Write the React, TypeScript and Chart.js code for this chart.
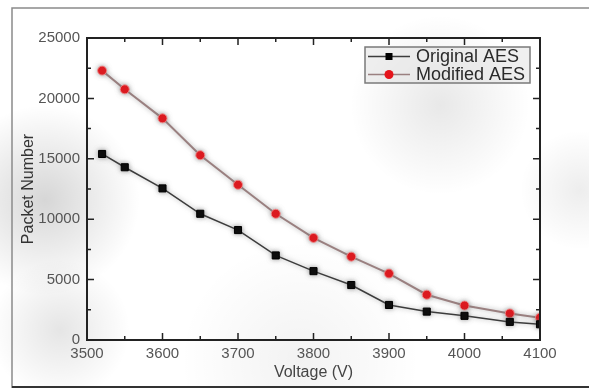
import React, { useEffect, useRef } from "react";
import { Chart, registerables } from "chart.js";

Chart.register(...registerables);

const voltages = [3520, 3550, 3600, 3650, 3700, 3750, 3800, 3850, 3900, 3950, 4000, 4060, 4100];
const originalAES = [15400, 14300, 12550, 10450, 9100, 7000, 5700, 4550, 2900, 2350, 2000, 1500, 1300];
const modifiedAES = [22300, 20750, 18350, 15300, 12850, 10450, 8450, 6900, 5500, 3750, 2850, 2200, 1850];
const seriesNames = ["Original AES", "Modified AES"];
const xMajorTicks = [3500, 3600, 3700, 3800, 3900, 4000, 4100];
const xMinorTicks = [3550, 3650, 3750, 3850, 3950, 4050];
const yMajorTicks = [0, 5000, 10000, 15000, 20000, 25000];
const yMinorTicks = [2500, 7500, 12500, 17500, 22500];
const xTitle = "Voltage (V)";
const yTitle = "Packet Number";

const FONT = "'Liberation Sans', Arial, sans-serif";

const backgroundPlugin = {
  id: "bgPlugin",
  beforeDraw(chart: any) {
    const { ctx, width, height } = chart;
    ctx.save();
    ctx.fillStyle = "#ffffff";
    ctx.fillRect(0, 0, width, height);
    const glows = [
      [45, 200, 95, 0.16],
      [60, 330, 70, 0.1],
      [440, 105, 90, 0.09],
      [580, 190, 60, 0.07],
      [300, 360, 120, 0.05],
    ];
    for (const [x, y, r, a] of glows) {
      const g = ctx.createRadialGradient(x, y, 0, x, y, r);
      g.addColorStop(0, `rgba(0,0,0,${a})`);
      g.addColorStop(1, "rgba(0,0,0,0)");
      ctx.fillStyle = g;
      ctx.fillRect(0, 0, width, height);
    }
    // outer frame
    ctx.strokeStyle = "#8a8a8a";
    ctx.lineWidth = 1.5;
    ctx.beginPath();
    ctx.moveTo(12, height);
    ctx.lineTo(12, 8);
    ctx.lineTo(width, 8);
    ctx.stroke();
    ctx.strokeStyle = "#333";
    ctx.lineWidth = 2;
    ctx.beginPath();
    ctx.moveTo(12, 387);
    ctx.lineTo(width, 387);
    ctx.stroke();
    ctx.restore();
  },
  beforeDatasetDraw(chart: any) {
    const ctx = chart.ctx;
    ctx.save();
    ctx.shadowColor = "rgba(110,110,110,0.6)";
    ctx.shadowBlur = 5;
  },
  afterDatasetDraw(chart: any) {
    chart.ctx.restore();
  },
  afterDraw(chart: any) {
    const { ctx, chartArea } = chart;
    const xs = chart.scales.x;
    const ys = chart.scales.y;
    const { left, right, top, bottom } = chartArea;
    ctx.save();
    ctx.strokeStyle = "#222";
    ctx.lineWidth = 2;
    ctx.strokeRect(left, top, right - left, bottom - top);
    ctx.lineWidth = 1.5;
    const major = 7;
    const minor = 4;
    ctx.beginPath();
    for (const v of xMajorTicks) {
      const p = xs.getPixelForValue(v);
      ctx.moveTo(p, bottom); ctx.lineTo(p, bottom - major);
      ctx.moveTo(p, top); ctx.lineTo(p, top + major);
    }
    for (const v of xMinorTicks) {
      const p = xs.getPixelForValue(v);
      ctx.moveTo(p, bottom); ctx.lineTo(p, bottom - minor);
      ctx.moveTo(p, top); ctx.lineTo(p, top + minor);
    }
    for (const v of yMajorTicks) {
      const p = ys.getPixelForValue(v);
      ctx.moveTo(left, p); ctx.lineTo(left + major, p);
      ctx.moveTo(right, p); ctx.lineTo(right - major, p);
    }
    for (const v of yMinorTicks) {
      const p = ys.getPixelForValue(v);
      ctx.moveTo(left, p); ctx.lineTo(left + minor, p);
      ctx.moveTo(right, p); ctx.lineTo(right - minor, p);
    }
    ctx.stroke();

    // legend
    const lx = right - 175;
    const ly = top + 9;
    const lw = 165;
    const lh = 36;
    ctx.fillStyle = "rgba(225,225,225,0.55)";
    ctx.fillRect(lx, ly, lw, lh);
    ctx.strokeStyle = "#7a7a7a";
    ctx.lineWidth = 1.5;
    ctx.strokeRect(lx, ly, lw, lh);
    const datasets = chart.data.datasets;
    const rows = [ly + 9.5, ly + 27.5];
    datasets.forEach((ds: any, i: number) => {
      const y = rows[i];
      ctx.strokeStyle = ds.borderColor;
      ctx.lineWidth = 1.5;
      ctx.beginPath();
      ctx.moveTo(lx + 3, y);
      ctx.lineTo(lx + 45, y);
      ctx.stroke();
      ctx.fillStyle = ds.pointBackgroundColor;
      if (ds.pointStyle === "rect") {
        ctx.fillRect(lx + 24 - 3.5, y - 3.5, 7, 7);
      } else {
        ctx.beginPath();
        ctx.arc(lx + 24, y, 4.5, 0, Math.PI * 2);
        ctx.fill();
      }
      ctx.fillStyle = "#2a2a2a";
      ctx.font = `18px ${FONT}`;
      ctx.textBaseline = "middle";
      ctx.textAlign = "left";
      ctx.fillText(ds.label, lx + 51, y + 1);
    });
    ctx.restore();
  },
};

export default function App() {
  const ref = useRef<HTMLCanvasElement | null>(null);
  useEffect(() => {
    if (!ref.current) return;
    const chart = new Chart(ref.current, {
      type: "line",
      data: {
        datasets: [
          {
            label: seriesNames[0],
            data: voltages.map((v, i) => ({ x: v, y: originalAES[i] })),
            borderColor: "#3c3c3c",
            borderWidth: 1.5,
            pointStyle: "rect",
            pointRadius: 5,
            pointBackgroundColor: "#000000",
            pointBorderColor: "#000000",
            pointBorderWidth: 1,
            tension: 0,
          },
          {
            label: seriesNames[1],
            data: voltages.map((v, i) => ({ x: v, y: modifiedAES[i] })),
            borderColor: "#9a8080",
            borderWidth: 2,
            pointStyle: "circle",
            pointRadius: 4.5,
            pointBackgroundColor: "#e5141b",
            pointBorderColor: "rgba(240,140,140,0.9)",
            pointBorderWidth: 1,
            tension: 0,
          },
        ],
      },
      options: {
        responsive: false,
        animation: false,
        devicePixelRatio: 1,
        layout: { padding: { left: 0, top: 38, right: 49, bottom: 0 } },
        plugins: { legend: { display: false }, tooltip: { enabled: false } },
        scales: {
          x: {
            type: "linear",
            min: 3500,
            max: 4100,
            grid: { display: false, drawTicks: false },
            border: { display: false },
            ticks: {
              stepSize: 100,
              padding: 5,
              color: "#555",
              font: { family: FONT, size: 15 },
              callback: (v: any) => String(v),
            },
            title: {
              display: true,
              text: xTitle,
              color: "#444",
              font: { family: FONT, size: 16 },
              padding: { top: 0, bottom: 6 },
            },
            afterFit: (s: any) => { s.height = 48; },
          },
          y: {
            min: 0,
            max: 25000,
            grid: { display: false, drawTicks: false },
            border: { display: false },
            ticks: {
              stepSize: 5000,
              padding: 7,
              color: "#555",
              font: { family: FONT, size: 15 },
              callback: (v: any) => String(v),
            },
            title: {
              display: true,
              text: yTitle,
              color: "#333",
              font: { family: FONT, size: 16 },
              padding: { top: 19, bottom: 0 },
            },
            afterFit: (s: any) => { s.width = 87; },
          },
        },
      },
      plugins: [backgroundPlugin],
    });
    return () => chart.destroy();
  }, []);
  return (
    <div style={{ position: "fixed", left: 0, top: 0, width: 589, height: 388 }}>
      <canvas ref={ref} width={589} height={388} style={{ display: "block" }} />
    </div>
  );
}
